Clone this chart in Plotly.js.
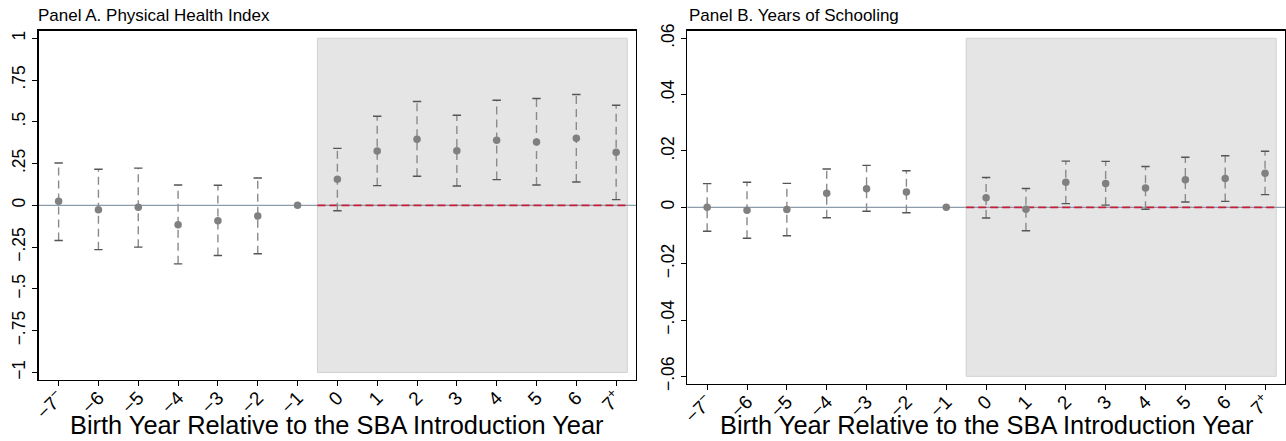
<!DOCTYPE html>
<html>
<head>
<meta charset="utf-8">
<script src="https://cdn.plot.ly/plotly-3.0.1.min.js"></script>
<style>html,body{margin:0;padding:0;background:#fff;}#chart{width:1286px;height:441px;}</style>
</head>
<body>
<div id="chart"></div>
<script>
// ---- data ----
var relYear = [-7,-6,-5,-4,-3,-2,-1,0,1,2,3,4,5,6,7];
var tickLabels = ["\u22127<sup>\u2212</sup>","\u22126","\u22125","\u22124","\u22123","\u22122","\u22121","0","1","2","3","4","5","6","7<sup>+</sup>"];

var healthCoef = [0.024,-0.026,-0.012,-0.116,-0.092,-0.064,0,0.156,0.325,0.395,0.327,0.389,0.379,0.401,0.317];
var healthLo   = [-0.21,-0.265,-0.25,-0.35,-0.30,-0.29,null,-0.032,0.118,0.174,0.116,0.154,0.122,0.14,0.034];
var healthHi   = [0.253,0.216,0.223,0.122,0.12,0.164,null,0.341,0.533,0.621,0.539,0.629,0.639,0.663,0.599];

var schoolCoef = [0,-0.001,-0.0008,0.005,0.0066,0.0054,0,0.0034,-0.0007,0.0089,0.0085,0.0069,0.0098,0.0102,0.0121];
var schoolLo   = [-0.0085,-0.011,-0.0101,-0.0037,-0.0014,-0.0019,null,-0.0038,-0.0083,0.0013,0.0008,-0.0007,0.0019,0.0021,0.0045];
var schoolHi   = [0.0084,0.0089,0.0085,0.0136,0.0149,0.013,null,0.0106,0.0067,0.0164,0.0163,0.0145,0.0178,0.0183,0.0199];

var healthTickVals = [1,0.75,0.5,0.25,0,-0.25,-0.5,-0.75,-1];
var healthTickText = ["1",".75",".5",".25","0","\u2212.25","\u2212.5","\u2212.75","\u22121"];
var schoolTickVals = [0.06,0.04,0.02,0,-0.02,-0.04,-0.06];
var schoolTickText = [".06",".04",".02","0","\u2212.02","\u2212.04","\u2212.06"];

var panelTitles = ["Panel A. Physical Health Index","Panel B. Years of Schooling"];
var xTitle = "Birth Year Relative to the SBA Introduction Year";

// ---- build traces ----
var FONT = "Liberation Sans, Arial, Helvetica, sans-serif";
function panelTraces(coef, lo, hi, xa, ya){
  var lx=[], ly=[], cx=[], cy=[];
  for (var i=0;i<relYear.length;i++){
    if (lo[i]===null) continue;
    lx.push(relYear[i],relYear[i],null); ly.push(lo[i],hi[i],null);
    cx.push(relYear[i],relYear[i]); cy.push(lo[i],hi[i]);
  }
  return [
    {x:lx,y:ly,xaxis:xa,yaxis:ya,mode:"lines",line:{color:"#8a8a8a",width:1.4,dash:"8px,5px"},hoverinfo:"skip",showlegend:false},
    {x:cx,y:cy,xaxis:xa,yaxis:ya,mode:"markers",marker:{symbol:"line-ew",size:6,line:{color:"#555",width:1.4}},hoverinfo:"skip",showlegend:false},
    {x:relYear,y:coef,xaxis:xa,yaxis:ya,mode:"markers",marker:{color:"#808080",size:7.5},showlegend:false}
  ];
}
var traces = panelTraces(healthCoef,healthLo,healthHi,"x","y").concat(panelTraces(schoolCoef,schoolLo,schoolHi,"x2","y2"));

function xaxisCfg(dom, anchor){
  return {domain:dom, anchor:anchor, range:[-7.5,7.5], tickvals:relYear, ticktext:tickLabels, tickangle:-45,
    showline:true, mirror:true, linecolor:"#000", linewidth:1.3, ticks:"outside", ticklen:5, tickcolor:"#000",
    ticklabelstandoff:-7,
    showgrid:false, zeroline:false, tickfont:{family:FONT,size:19,color:"#000"}};
}
function yaxisCfg(dom, anchor, rng, tv, tt){
  return {domain:dom, anchor:anchor, range:rng, tickvals:tv, ticktext:tt, tickangle:-90,
    showline:true, mirror:true, linecolor:"#000", linewidth:1.3, ticks:"outside", ticklen:5, tickcolor:"#000",
    showgrid:false, zeroline:false, tickfont:{family:FONT,size:17.5,color:"#000"}};
}

function panelShapes(xr, yr, ymax){
  return [
    {type:"rect", xref:xr, yref:yr, x0:-0.5, x1:7.28, y0:-ymax, y1:ymax, fillcolor:"#e5e5e5", line:{color:"#d2d2d2",width:1}, layer:"below"},
    {type:"line", xref:xr, yref:yr, x0:-7.5, x1:7.5, y0:0, y1:0, line:{color:"#8c9cab",width:1.2}, layer:"below"},
    {type:"line", xref:xr, yref:yr, x0:-0.5, x1:7.28, y0:0, y1:0, line:{color:"#c41e3a",width:1.6,dash:"8px,4px"}, layer:"below"}
  ];
}

var layout = {
  width:1286, height:441, margin:{l:0,r:0,t:0,b:0}, paper_bgcolor:"#fff", plot_bgcolor:"#fff",
  font:{family:FONT,color:"#000"},
  xaxis: xaxisCfg([0.0301,0.4946],"y"),
  yaxis: yaxisCfg([0.1383,0.9304],"x",[-1.045,1.045],healthTickVals,healthTickText),
  xaxis2: xaxisCfg([0.5344,0.9992],"y2"),
  yaxis2: yaxisCfg([0.1293,0.9304],"x2",[-0.0627,0.0627],schoolTickVals,schoolTickText),
  shapes: panelShapes("x","y",1).concat(panelShapes("x2","y2",0.06)),
  annotations:[
    {text:panelTitles[0], xref:"paper", yref:"paper", x:36/1286, y:1-16/441, xanchor:"left", yanchor:"middle", showarrow:false, font:{family:FONT,size:17,color:"#000"}},
    {text:panelTitles[1], xref:"paper", yref:"paper", x:687/1286, y:1-16/441, xanchor:"left", yanchor:"middle", showarrow:false, font:{family:FONT,size:17,color:"#000"}},
    {text:xTitle, xref:"paper", yref:"paper", x:337/1286, y:1-425/441, xanchor:"center", yanchor:"middle", showarrow:false, font:{family:FONT,size:25.4,color:"#000"}},
    {text:xTitle, xref:"paper", yref:"paper", x:987/1286, y:1-425/441, xanchor:"center", yanchor:"middle", showarrow:false, font:{family:FONT,size:25.4,color:"#000"}}
  ]
};

Plotly.newPlot("chart", traces, layout, {displayModeBar:false, staticPlot:true});
</script>
</body>
</html>
